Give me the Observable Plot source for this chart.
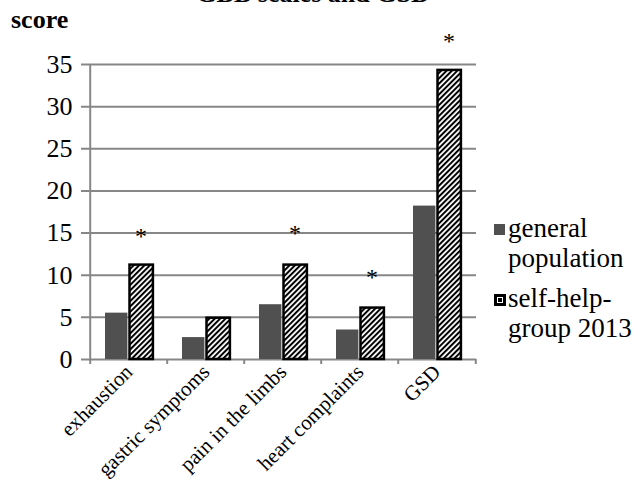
<!DOCTYPE html>
<html>
<head>
<meta charset="utf-8">
<script src="https://cdn.jsdelivr.net/npm/d3@7"></script>
<script src="https://cdn.jsdelivr.net/npm/@observablehq/plot@0.6"></script>
<style>
  html, body { margin: 0; padding: 0; background: #fff; }
  #wrap { position: relative; width: 634px; height: 486px; overflow: hidden; font-family: "Liberation Serif", "Times New Roman", Tinos, serif; }
  #title { position: absolute; top: -19px; left: 0; width: 626px; text-align: center; font-weight: bold; font-size: 26px; line-height: 26px; }
  #ylab { position: absolute; top: 7px; left: 11px; font-weight: bold; font-size: 26px; line-height: 26px; }
  #legend { position: absolute; left: 494px; top: 213px; font-size: 27px; line-height: 30px; font-family: "Liberation Serif", "Times New Roman", serif; }
  .li { display: flex; align-items: flex-start; margin-bottom: 10px; }
  .li svg { margin-top: 11px; margin-right: 2px; flex: none; }
  #chart { position: absolute; left: 0; top: 0; }
  #chart svg text { font-family: "Liberation Serif", "Times New Roman", serif; }
</style>
</head>
<body>
<div id="wrap">
  <div id="chart"></div>
  <div id="title">GBB scales and GSD</div>
  <div id="ylab">score</div>
  <div id="legend"></div>
</div>
<script>
const categories = ["exhaustion", "gastric symptoms", "pain in the limbs", "heart complaints", "GSD"];
const seriesNames = ["general population", "self-help-group 2013"];
const generalPopulation = [5.5, 2.6, 6.5, 3.5, 18.2];
const selfHelpGroup = [11.2, 4.9, 11.2, 6.1, 34.3];
const starPositions = [15.1, null, 15.4, 10.2, 38.2];
const yTicks = [0, 5, 10, 15, 20, 25, 30, 35];

const general = categories.map((c, i) => ({category: c, value: generalPopulation[i]}));
const selfHelp = categories.map((c, i) => ({category: c, value: selfHelpGroup[i]}));
const stars = categories.map((c, i) => ({category: c, y: starPositions[i]})).filter(d => d.y != null);

const W = 634, H = 486, mL = 88, mR = 158, mT = 64, mB = 127;
const bw = (W - mL - mR) / categories.length;
const grid = "#878787";
const serif = "'Liberation Serif', 'Times New Roman', serif";

const plot = Plot.plot({
  width: W,
  height: H,
  marginLeft: mL,
  marginRight: mR,
  marginTop: mT,
  marginBottom: mB,
  style: {fontFamily: serif, background: "transparent", overflow: "visible"},
  x: {domain: categories, padding: 0, label: null},
  y: {domain: [0, 35], label: null},
  marks: [
    Plot.ruleY(yTicks, {stroke: grid, strokeWidth: 2, insetLeft: -7}),
    Plot.ruleX([categories[0]], {y1: 0, y2: 35, dx: -bw / 2, stroke: grid, strokeWidth: 2}),
    Plot.ruleX(categories, {y1: 0, y2: 0, insetBottom: -5, dx: -bw / 2, stroke: grid, strokeWidth: 2}),
    Plot.ruleX([categories[categories.length - 1]], {y1: 0, y2: 0, insetBottom: -5, dx: bw / 2, stroke: grid, strokeWidth: 2}),
    Plot.barY(general, {x: "category", y: "value", fill: "#505050", insetLeft: 15, insetRight: bw - 38}),
    Plot.barY(selfHelp, {x: "category", y: "value", fill: "url(#hatch)", stroke: "#000", strokeWidth: 2.5, insetLeft: 39.5, insetRight: bw - 63.5}),
    Plot.text(stars, {x: "category", y: "y", text: () => "*", dx: 12, fontSize: 24, fill: "#000", dy: 4, fontFamily: serif}),
    Plot.axisY(yTicks, {tickSize: 0, tickPadding: 16, fontSize: 26, fill: "#000", fontFamily: serif}),
    Plot.axisX({tickSize: 0, tickRotate: -45, tickPadding: 9, dx: 0, fontSize: 21, fill: "#000", fontFamily: serif})
  ]
});

const svg = d3.select(plot);
const defs = svg.insert("defs", ":first-child");
const pat = defs.append("pattern")
  .attr("id", "hatch")
  .attr("patternUnits", "userSpaceOnUse")
  .attr("width", 3.8).attr("height", 3.8)
  .attr("patternTransform", "rotate(45)");
pat.append("rect").attr("width", 3.8).attr("height", 3.8).attr("fill", "#fff");
pat.append("rect").attr("width", 2).attr("height", 3.8).attr("fill", "#000");

document.getElementById("chart").appendChild(plot);

const legend = d3.select("#legend");
const lgLines = [["general", "population"], ["self-help-", "group 2013"]];
seriesNames.forEach((name, i) => {
  const item = legend.append("div").attr("class", "li");
  const sw = item.append("svg").attr("width", 12).attr("height", 12);
  if (i === 0) {
    sw.append("rect").attr("width", 11).attr("height", 11).attr("fill", "#505050");
  } else {
    sw.append("rect").attr("x", 1.5).attr("y", 1.5).attr("width", 9).attr("height", 9)
      .attr("fill", "#fff").attr("stroke", "#000").attr("stroke-width", 3);
    sw.append("rect").attr("x", 4).attr("y", 4).attr("width", 4).attr("height", 4).attr("fill", "#000");
  }
  item.append("div").html(lgLines[i].join("<br>")).attr("title", name);
});
</script>
</body>
</html>
